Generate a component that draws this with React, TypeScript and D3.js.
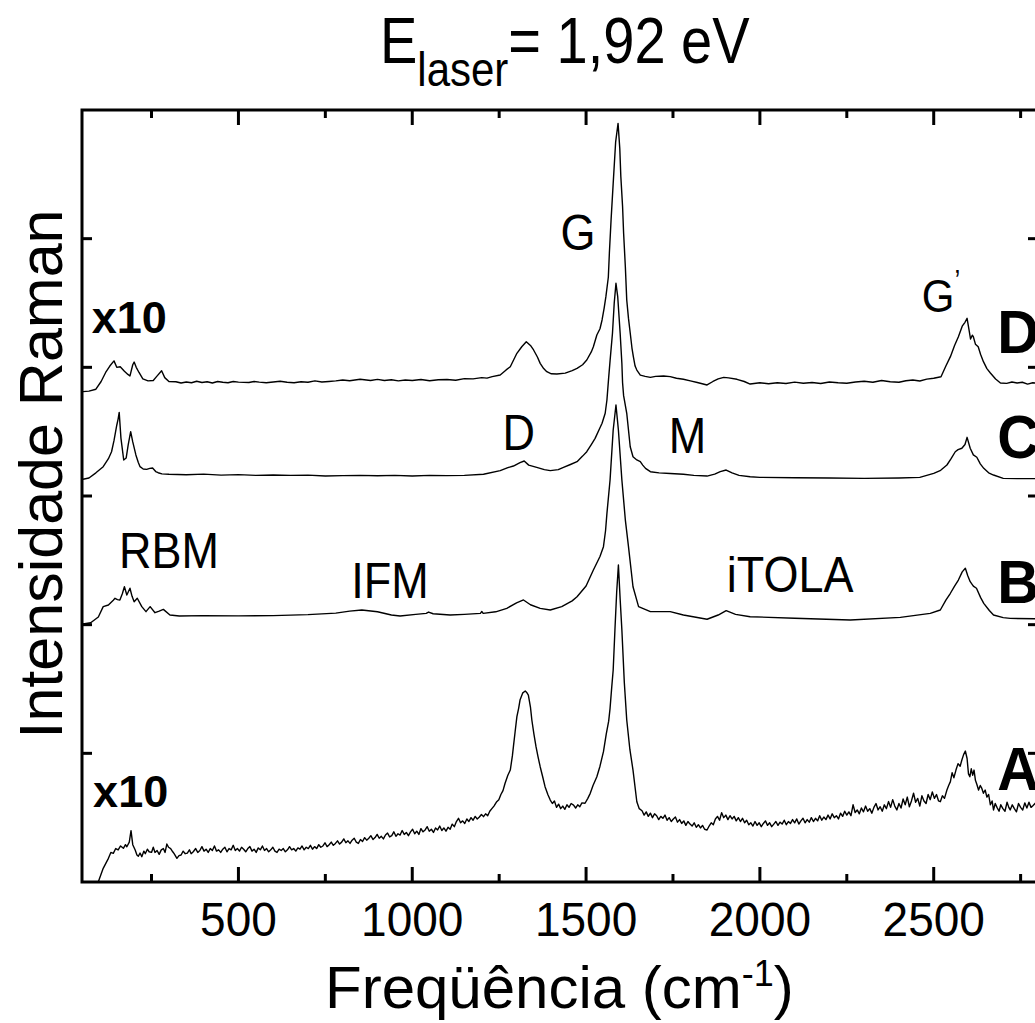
import React from 'react';
import * as d3 from 'd3';

const FONT = "'Liberation Sans', Arial, Helvetica, sans-serif";

const xDomain: [number, number] = [50, 2800];
const yDomain: [number, number] = [0, 60];
const xMajorTicks = [500, 1000, 1500, 2000, 2500];
const xMinorTicks = [250, 750, 1250, 1750, 2250, 2750];
const yTicks = [10, 20, 30, 40, 50];

type P = [number, number];

const spectrumD: P[] = [
  [53, 38.11], [70, 38.15], [90, 38.3], [105, 38.9], [118, 39.6], [130, 40.1], [142, 40.5], [150, 40.0],
  [160, 40.05], [172, 39.7], [182, 39.45], [188, 39.33], [196, 40.2], [200, 40.41], [206, 40.0], [214, 39.6],
  [225, 39.1], [240, 38.95], [255, 38.98], [265, 39.3], [279, 39.74], [288, 39.2], [300, 38.9], [320, 38.88],
  [335, 38.78], [350, 38.86], [365, 38.8], [380, 38.92], [395, 38.82], [410, 38.88], [425, 38.78], [440, 38.9],
  [455, 38.84], [470, 38.8], [485, 38.9], [500, 38.85], [530, 38.82], [545, 38.9], [560, 38.85], [580, 38.8],
  [600, 38.86], [620, 38.92], [640, 38.84], [660, 38.8], [680, 38.88], [700, 38.84], [720, 38.95], [740, 38.86],
  [760, 38.9], [780, 38.95], [800, 39.02], [820, 38.96], [850, 39.07], [880, 38.98], [900, 39.06], [920, 38.98],
  [940, 39.04], [960, 38.95], [980, 39.02], [1000, 38.98], [1025, 39.05], [1050, 38.96], [1075, 39.04], [1100, 39.05],
  [1125, 39.0], [1150, 39.12], [1175, 39.1], [1200, 39.2], [1215, 39.16], [1230, 39.28], [1253, 39.4], [1270, 39.8],
  [1282, 40.05], [1301, 41.09], [1315, 41.6], [1328, 41.99], [1340, 41.7], [1349, 41.35], [1360, 40.8], [1368, 40.31],
  [1378, 39.9], [1387, 39.66], [1400, 39.5], [1416, 39.48], [1440, 39.55], [1460, 39.75], [1474, 39.92], [1490, 40.2],
  [1502, 40.57], [1515, 41.2], [1521, 41.6], [1531, 42.51], [1540, 43.0], [1546, 43.68], [1552, 44.6], [1557, 45.49],
  [1564, 47.0], [1567, 48.86], [1572, 51.5], [1578, 54.3], [1585, 57.5], [1592, 58.96], [1597, 57.0], [1600, 54.82],
  [1605, 52.5], [1608, 50.42], [1613, 47.8], [1617, 45.23], [1622, 43.8], [1627, 42.67], [1632, 41.5], [1636, 40.83],
  [1641, 40.1], [1646, 39.79], [1656, 39.4], [1670, 39.3], [1685, 39.22], [1700, 39.3], [1723, 39.33], [1742, 39.28],
  [1760, 39.15], [1780, 39.07], [1800, 38.95], [1820, 38.82], [1848, 38.63], [1865, 38.9], [1880, 39.1], [1896, 39.22],
  [1910, 39.18], [1934, 39.07], [1955, 38.9], [1972, 38.7], [2000, 38.8], [2025, 38.72], [2050, 38.8], [2075, 38.74],
  [2100, 38.85], [2125, 38.76], [2150, 38.82], [2175, 38.74], [2200, 38.86], [2225, 38.8], [2250, 38.76], [2275, 38.86],
  [2300, 38.92], [2325, 38.84], [2350, 38.98], [2375, 38.88], [2400, 38.84], [2420, 38.96], [2440, 39.02], [2460, 38.94],
  [2480, 39.08], [2500, 39.15], [2521, 39.27], [2535, 40.1], [2548, 40.83], [2560, 41.7], [2571, 42.38], [2582, 43.2],
  [2590, 43.5], [2596, 43.81], [2601, 43.0], [2606, 42.2], [2611, 42.5], [2614, 42.38], [2620, 41.8], [2628, 41.6],
  [2635, 41.0], [2643, 40.44], [2653, 39.9], [2663, 39.56], [2678, 39.1], [2692, 38.78], [2710, 38.75], [2725, 38.86],
  [2740, 38.78], [2755, 38.84], [2770, 38.7], [2785, 38.8], [2800, 38.75],
];

const spectrumC: P[] = [
  [53, 31.3], [70, 31.4], [90, 31.8], [111, 32.28], [126, 32.9], [135, 33.44], [142, 34.3], [150, 35.5],
  [154, 36.0], [157, 36.5], [162, 34.5], [170, 32.8], [177, 32.95], [183, 34.0], [190, 35.0], [196, 34.2],
  [205, 33.19], [212, 32.6], [217, 32.28], [226, 32.1], [236, 32.07], [245, 32.15], [253, 32.18], [262, 31.9],
  [269, 31.81], [280, 31.72], [300, 31.69], [350, 31.65], [400, 31.7], [450, 31.62], [500, 31.66], [550, 31.6],
  [600, 31.63], [650, 31.6], [700, 31.62], [750, 31.55], [800, 31.58], [850, 31.6], [900, 31.57], [950, 31.6],
  [1000, 31.55], [1050, 31.6], [1100, 31.58], [1150, 31.6], [1205, 31.69], [1253, 31.97], [1275, 32.2], [1291, 32.33],
  [1310, 32.6], [1322, 32.72], [1335, 32.4], [1358, 32.23], [1380, 32.05], [1397, 31.97], [1420, 32.05], [1435, 32.23],
  [1455, 32.45], [1474, 32.67], [1490, 33.1], [1502, 33.44], [1515, 34.0], [1526, 34.48], [1540, 35.3], [1546, 35.65],
  [1555, 36.43], [1560, 37.46], [1565, 39.2], [1569, 40.5], [1576, 42.67], [1581, 45.0], [1586, 46.53], [1591, 45.5],
  [1598, 42.67], [1603, 40.3], [1605, 38.8], [1608, 37.8], [1617, 36.43], [1627, 33.83], [1635, 33.05], [1646, 32.8],
  [1656, 32.67], [1663, 32.4], [1671, 32.15], [1685, 31.89], [1710, 31.8], [1742, 31.75], [1780, 31.69], [1810, 31.6],
  [1848, 31.55], [1870, 31.7], [1886, 31.9], [1903, 32.02], [1920, 31.8], [1940, 31.6], [1972, 31.5], [2000, 31.45],
  [2100, 31.42], [2200, 31.4], [2300, 31.37], [2400, 31.4], [2460, 31.45], [2500, 31.76], [2520, 32.0], [2538, 32.41],
  [2550, 32.9], [2562, 33.44], [2570, 33.6], [2581, 33.71], [2590, 34.0], [2596, 34.56], [2605, 33.71], [2614, 33.2],
  [2624, 33.01], [2634, 32.5], [2644, 32.15], [2658, 31.8], [2672, 31.63], [2700, 31.37], [2740, 31.35], [2800, 31.35],
];

const spectrumB: P[] = [
  [53, 20.05], [75, 20.15], [97, 20.6], [111, 21.4], [126, 21.53], [140, 21.9], [145, 22.05], [152, 21.95],
  [159, 21.92], [166, 22.4], [172, 22.95], [179, 22.31], [188, 22.83], [194, 22.2], [200, 21.78], [209, 22.05],
  [222, 21.4], [234, 21.01], [246, 21.4], [260, 20.93], [272, 21.05], [284, 21.19], [303, 20.75], [330, 20.67],
  [400, 20.7], [500, 20.68], [600, 20.7], [700, 20.78], [780, 20.9], [820, 21.05], [855, 21.14], [900, 21.0],
  [940, 20.75], [965, 20.67], [1010, 20.8], [1040, 20.88], [1047, 20.98], [1060, 20.85], [1109, 20.75], [1150, 20.8],
  [1196, 20.88], [1200, 21.02], [1204, 20.88], [1240, 21.0], [1272, 21.27], [1300, 21.7], [1320, 21.92], [1340, 21.55],
  [1368, 21.27], [1397, 21.14], [1430, 21.4], [1460, 21.85], [1474, 22.17], [1500, 23.0], [1521, 24.25], [1540, 25.3],
  [1550, 26.06], [1556, 27.3], [1560, 28.65], [1569, 31.24], [1578, 35.13], [1586, 37.07], [1593, 35.13], [1603, 31.24],
  [1613, 28.13], [1622, 26.06], [1635, 22.95], [1651, 21.4], [1685, 21.01], [1742, 21.01], [1780, 20.75], [1848, 20.42],
  [1880, 20.75], [1903, 21.09], [1930, 20.8], [1972, 20.62], [2100, 20.5], [2260, 20.36], [2404, 20.57], [2490, 20.88],
  [2519, 21.14], [2535, 21.9], [2548, 22.44], [2560, 23.0], [2571, 23.47], [2582, 24.1], [2591, 24.38], [2598, 23.8],
  [2605, 23.34], [2614, 23.0], [2623, 22.83], [2635, 22.1], [2644, 21.66], [2660, 21.1], [2672, 20.75], [2700, 20.55],
  [2720, 20.49], [2800, 20.45],
];

const spectrumA: P[] = [
  [97, 0.02], [111, 1.06], [126, 1.84], [133, 2.3], [140, 2.23], [147, 2.6], [154, 2.49], [161, 2.8],
  [169, 2.62], [175, 2.9], [179, 2.74], [186, 3.1], [191, 3.99], [196, 2.9], [203, 2.49], [208, 2.1],
  [212, 2.0], [217, 2.25], [222, 1.97], [228, 2.4], [232, 2.2], [238, 2.55], [243, 2.35], [250, 2.3],
  [255, 2.7], [260, 2.3], [266, 2.45], [272, 2.15], [278, 2.5], [284, 2.6], [289, 2.3], [294, 2.95],
  [299, 2.7], [305, 2.6], [311, 2.35], [315, 2.2], [323, 1.84], [329, 2.05], [335, 2.1], [341, 2.4],
  [347, 2.2], [353, 2.25], [359, 2.5], [364, 2.2], [370, 2.35], [377, 2.6], [383, 2.3], [389, 2.45],
  [395, 2.75], [401, 2.4], [407, 2.55], [413, 2.3], [419, 2.6], [425, 2.45], [431, 2.8], [437, 2.4],
  [443, 2.5], [449, 2.3], [455, 2.55], [461, 2.7], [467, 2.35], [473, 2.6], [479, 2.5], [485, 2.85],
  [491, 2.45], [497, 2.6], [503, 2.4], [509, 2.7], [515, 2.55], [521, 2.35], [527, 2.6], [533, 2.75],
  [539, 2.4], [545, 2.55], [551, 2.3], [557, 2.65], [563, 2.5], [569, 2.8], [575, 2.45], [581, 2.6],
  [587, 2.35], [593, 2.5], [599, 2.7], [605, 2.4], [611, 2.3], [617, 2.55], [623, 2.45], [629, 2.6],
  [635, 2.35], [641, 2.5], [647, 2.75], [653, 2.5], [659, 2.6], [665, 2.4], [671, 2.65], [677, 2.55],
  [683, 2.8], [689, 2.5], [695, 2.7], [701, 2.6], [707, 2.85], [713, 2.55], [719, 2.75], [725, 2.6],
  [731, 2.9], [737, 2.7], [743, 2.8], [749, 3.05], [755, 2.75], [761, 2.9], [767, 3.1], [773, 2.85],
  [779, 3.0], [785, 3.2], [791, 2.95], [797, 3.1], [803, 3.35], [809, 3.05], [815, 3.2], [821, 3.0],
  [827, 3.25], [833, 3.4], [839, 3.1], [845, 3.0], [851, 3.3], [857, 3.15], [863, 3.45], [869, 3.25],
  [875, 3.4], [881, 3.6], [887, 3.3], [893, 3.45], [899, 3.7], [905, 3.4], [911, 3.55], [917, 3.35],
  [923, 3.65], [929, 3.8], [935, 3.5], [941, 3.6], [947, 3.9], [953, 3.55], [959, 3.75], [965, 3.65],
  [971, 4.0], [977, 3.7], [983, 3.85], [989, 3.6], [995, 3.9], [1001, 4.1], [1007, 3.75], [1013, 3.95],
  [1019, 3.7], [1025, 4.15], [1031, 3.9], [1037, 4.05], [1043, 4.3], [1049, 3.95], [1055, 4.1], [1061, 3.85],
  [1067, 4.2], [1073, 4.05], [1079, 4.35], [1085, 4.0], [1091, 4.2], [1097, 3.95], [1103, 4.25], [1109, 4.1],
  [1115, 4.5], [1121, 4.3], [1127, 4.7], [1133, 4.95], [1139, 4.6], [1145, 4.75], [1151, 4.55], [1157, 4.9],
  [1163, 4.7], [1169, 5.0], [1175, 4.8], [1181, 5.1], [1187, 4.9], [1193, 5.05], [1199, 5.25], [1205, 5.08],
  [1211, 5.3], [1217, 5.15], [1223, 5.5], [1229, 5.7], [1235, 5.9], [1243, 6.24], [1249, 6.4], [1255, 6.8],
  [1261, 7.1], [1267, 7.67], [1275, 8.3], [1282, 8.7], [1288, 9.8], [1291, 10.52], [1296, 11.7], [1301, 12.85],
  [1306, 13.5], [1310, 14.14], [1318, 14.7], [1325, 14.84], [1330, 14.7], [1334, 14.53], [1340, 13.6], [1344, 12.59],
  [1350, 11.5], [1356, 10.52], [1362, 9.7], [1368, 8.96], [1375, 8.2], [1382, 7.41], [1390, 6.8], [1397, 6.37],
  [1403, 6.1], [1409, 6.3], [1415, 5.8], [1421, 6.05], [1427, 5.7], [1433, 5.9], [1439, 5.65], [1445, 6.0],
  [1451, 5.8], [1457, 6.1], [1464, 5.98], [1470, 5.75], [1476, 6.0], [1482, 5.85], [1488, 6.15], [1497, 6.12],
  [1505, 6.5], [1512, 6.89], [1520, 7.5], [1531, 8.18], [1540, 9.0], [1550, 10.13], [1558, 11.5], [1565, 12.5],
  [1569, 13.5], [1574, 15.2], [1578, 16.48], [1583, 19.58], [1588, 22.5], [1593, 24.64], [1598, 22.0], [1603, 19.58],
  [1610, 15.5], [1617, 12.59], [1626, 10.3], [1635, 8.7], [1646, 6.24], [1653, 5.7], [1661, 5.54], [1667, 5.2],
  [1673, 5.45], [1679, 5.1], [1685, 5.35], [1691, 5.0], [1697, 5.3], [1703, 5.15], [1709, 4.85], [1715, 5.1],
  [1721, 4.95], [1727, 5.2], [1733, 4.8], [1739, 5.0], [1745, 4.7], [1751, 4.9], [1757, 5.05], [1763, 4.65],
  [1769, 4.85], [1775, 4.55], [1781, 4.75], [1787, 4.4], [1793, 4.7], [1799, 4.5], [1805, 4.35], [1811, 4.6],
  [1817, 4.25], [1823, 4.45], [1829, 4.2], [1835, 4.4], [1841, 4.1], [1848, 4.04], [1854, 4.35], [1860, 4.6],
  [1866, 4.45], [1872, 4.9], [1878, 5.1], [1884, 4.8], [1890, 5.39], [1896, 5.0], [1902, 5.2], [1908, 4.85],
  [1914, 5.15], [1920, 4.9], [1926, 5.1], [1932, 4.75], [1938, 5.0], [1944, 4.7], [1950, 4.95], [1956, 4.6],
  [1962, 4.8], [1968, 4.45], [1974, 4.6], [1980, 4.35], [1986, 4.7], [1992, 4.4], [1998, 4.6], [2004, 4.3],
  [2010, 4.55], [2016, 4.75], [2022, 4.4], [2028, 4.6], [2034, 4.3], [2040, 4.5], [2046, 4.7], [2052, 4.4],
  [2058, 4.65], [2064, 4.5], [2070, 4.8], [2076, 4.45], [2082, 4.7], [2088, 4.55], [2094, 4.85], [2100, 4.6],
  [2106, 4.9], [2112, 4.5], [2118, 4.75], [2124, 4.95], [2130, 4.6], [2136, 4.85], [2142, 4.65], [2148, 5.0],
  [2154, 4.7], [2160, 4.95], [2166, 4.75], [2172, 5.15], [2178, 4.8], [2184, 5.05], [2190, 4.85], [2196, 5.2],
  [2202, 4.9], [2208, 5.3], [2214, 5.0], [2220, 5.15], [2226, 4.9], [2232, 5.35], [2238, 5.1], [2244, 5.5],
  [2250, 5.2], [2256, 5.45], [2262, 5.15], [2268, 6.0], [2274, 5.4], [2280, 5.6], [2286, 5.3], [2292, 5.75],
  [2298, 5.45], [2304, 5.9], [2310, 5.5], [2316, 5.7], [2322, 5.35], [2328, 5.8], [2334, 6.1], [2340, 5.6],
  [2346, 5.85], [2352, 5.5], [2358, 6.0], [2364, 5.7], [2370, 6.25], [2376, 5.8], [2382, 6.4], [2388, 5.9],
  [2394, 5.6], [2400, 6.1], [2406, 5.75], [2412, 6.45], [2418, 6.0], [2424, 6.6], [2430, 5.85], [2436, 6.3],
  [2442, 6.9], [2448, 6.2], [2454, 6.5], [2460, 5.9], [2466, 6.7], [2472, 6.3], [2478, 6.1], [2484, 6.8],
  [2490, 6.4], [2496, 7.0], [2502, 6.5], [2508, 6.8], [2514, 6.3], [2519, 6.24], [2525, 6.7], [2531, 6.5],
  [2538, 7.15], [2543, 7.5], [2548, 7.8], [2553, 8.5], [2558, 8.1], [2564, 8.7], [2570, 9.2], [2576, 9.0],
  [2581, 9.48], [2586, 9.9], [2591, 10.18], [2596, 9.6], [2600, 8.4], [2604, 8.18], [2608, 8.8], [2612, 8.3],
  [2616, 8.7], [2620, 7.9], [2624, 7.6], [2629, 7.15], [2634, 7.5], [2638, 7.3], [2643, 6.9], [2648, 7.15],
  [2653, 6.6], [2658, 6.8], [2663, 6.0], [2668, 6.3], [2672, 5.6], [2677, 6.1], [2682, 5.8], [2688, 5.5],
  [2693, 6.0], [2699, 5.7], [2705, 5.5], [2711, 6.2], [2716, 5.8], [2720, 5.6], [2726, 6.0], [2732, 5.7],
  [2738, 5.45], [2744, 6.1], [2750, 5.8], [2756, 5.6], [2762, 6.15], [2768, 5.75], [2774, 6.2], [2780, 5.8],
  [2786, 5.95], [2792, 6.12], [2800, 6.0],
];

const spectra = [
  { name: 'A', data: spectrumA },
  { name: 'B', data: spectrumB },
  { name: 'C', data: spectrumC },
  { name: 'D', data: spectrumD },
];

// peak annotations: text centred on freq, baseline at intensity
const peakLabels: { text: string; f: number; v: number }[] = [
  { text: 'G', f: 1477, v: 49.1 },
  { text: 'D', f: 1306, v: 33.57 },
  { text: 'M', f: 1792, v: 33.34 },
  { text: 'iTOLA', f: 2087, v: 22.54 },
  { text: 'RBM', f: 300, v: 24.4 },
  { text: 'IFM', f: 936, v: 22.07 },
];
const gPrimeLabel = { f: 2521, v: 44.3 };
const scaleLabels = [
  { text: 'x10', f: 78, v: 42.67 },
  { text: 'x10', f: 82, v: 5.83 },
];
const curveLetters = [
  { text: 'D', f: 2683, v: 41.11 },
  { text: 'C', f: 2683, v: 32.95 },
  { text: 'B', f: 2683, v: 21.68 },
  { text: 'A', f: 2683, v: 7.15 },
];

const W = 1035;
const H = 1023;
const LEFT = 82;
const RIGHT = 1038;
const TOP = 110;
const BOTTOM = 882;

export default function App() {
  const x = d3.scaleLinear().domain(xDomain).range([LEFT, RIGHT]);
  const y = d3.scaleLinear().domain(yDomain).range([BOTTOM, TOP]);
  const line = d3
    .line<P>()
    .x((d) => x(d[0]))
    .y((d) => y(d[1]));

  const S = 1.12; // vertical stretch of the original lettering

  return (
    <svg
      width={W}
      height={H}
      viewBox={`0 0 ${W} ${H}`}
      style={{ position: 'absolute', left: 0, top: 0, background: '#fff' }}
      fontFamily={FONT}
    >
      <defs>
        <clipPath id="plotclip">
          <rect x={LEFT} y={TOP} width={RIGHT - LEFT} height={BOTTOM - TOP} />
        </clipPath>
      </defs>

      {/* title */}
      <text transform={`translate(380,63) scale(1,${1.16})`} fontSize={56}>
        E
        <tspan fontSize={42} dy={20}>laser</tspan>
        <tspan fontSize={56} dy={-20}>= 1,92 eV</tspan>
      </text>

      {/* spectra */}
      <g clipPath="url(#plotclip)">
        {spectra.map((s) => (
          <path key={s.name} d={line(s.data) || ''} fill="none" stroke="#000" strokeWidth={1.4} strokeLinejoin="round" />
        ))}
      </g>

      {/* frame */}
      <rect x={LEFT} y={TOP} width={RIGHT - LEFT} height={BOTTOM - TOP} fill="none" stroke="#000" strokeWidth={3} />

      {/* x ticks */}
      {xMajorTicks.map((t) => (
        <g key={'M' + t}>
          <line x1={x(t)} x2={x(t)} y1={BOTTOM} y2={BOTTOM - 15} stroke="#000" strokeWidth={3} />
          <line x1={x(t)} x2={x(t)} y1={TOP} y2={TOP + 15} stroke="#000" strokeWidth={3} />
          <text transform={`translate(${x(t)},936) scale(1,1.06)`} fontSize={46} textAnchor="middle">
            {t}
          </text>
        </g>
      ))}
      {xMinorTicks.map((t) => (
        <g key={'m' + t}>
          <line x1={x(t)} x2={x(t)} y1={BOTTOM} y2={BOTTOM - 8} stroke="#000" strokeWidth={3} />
          <line x1={x(t)} x2={x(t)} y1={TOP} y2={TOP + 8} stroke="#000" strokeWidth={3} />
        </g>
      ))}
      {/* y ticks */}
      {yTicks.map((t) => (
        <g key={'y' + t}>
          <line x1={LEFT} x2={LEFT + 10} y1={y(t)} y2={y(t)} stroke="#000" strokeWidth={3} />
          <line x1={RIGHT} x2={RIGHT - 10} y1={y(t)} y2={y(t)} stroke="#000" strokeWidth={3} />
        </g>
      ))}

      {/* axis titles */}
      <text transform="translate(62,474) rotate(-90)" fontSize={61} textAnchor="middle">
        Intensidade Raman
      </text>
      <text transform="translate(325,1008)" fontSize={60}>
        Freqüência (cm
        <tspan fontSize={36} dy={-22}>-1</tspan>
        <tspan fontSize={60} dy={22}>)</tspan>
      </text>

      {/* peak labels */}
      {peakLabels.map((l, i) => (
        <text key={'p' + i} transform={`translate(${x(l.f)},${y(l.v)}) scale(1,${S})`} fontSize={45} textAnchor="middle">
          {l.text}
        </text>
      ))}
      <text transform={`translate(${x(gPrimeLabel.f)},${y(gPrimeLabel.v)}) scale(1,${S})`} fontSize={42} textAnchor="middle">
        G<tspan fontSize={26} dy={-20}>’</tspan>
      </text>

      {scaleLabels.map((l, i) => (
        <text key={'s' + i} x={x(l.f)} y={y(l.v)} fontSize={45} fontWeight="bold">
          {l.text}
        </text>
      ))}

      {curveLetters.map((l) => (
        <text key={'c' + l.text} transform={`translate(${x(l.f)},${y(l.v)}) scale(1,1.05)`} fontSize={58} fontWeight="bold">
          {l.text}
        </text>
      ))}
    </svg>
  );
}
